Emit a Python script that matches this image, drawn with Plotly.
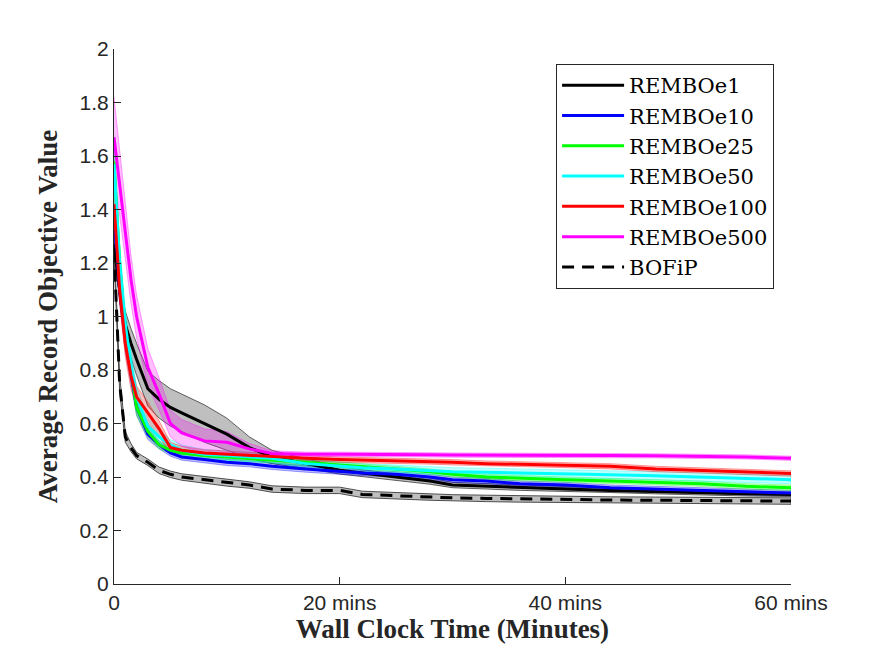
import plotly.graph_objects as go

# tempo (minutos) comum a todas as curvas
t = [0, 0.5, 1, 1.5, 2, 3, 4, 5, 6, 8, 10, 12, 14, 17, 20, 22, 25, 28, 30, 33, 36, 40, 44, 48, 52, 56, 60]

# medias
rembo_e1 = [1.27, 1.10, 0.97, 0.90, 0.84, 0.73, 0.69, 0.66, 0.64, 0.60, 0.56, 0.51, 0.475, 0.45, 0.425, 0.415, 0.40, 0.385, 0.37, 0.365, 0.36, 0.355, 0.35, 0.345, 0.34, 0.337, 0.335]
rembo_e10 = [1.37, 1.10, 0.92, 0.79, 0.66, 0.56, 0.52, 0.49, 0.475, 0.465, 0.455, 0.45, 0.44, 0.43, 0.42, 0.415, 0.41, 0.40, 0.39, 0.385, 0.375, 0.37, 0.36, 0.355, 0.35, 0.343, 0.34]
rembo_e25 = [1.58, 1.20, 0.95, 0.80, 0.66, 0.57, 0.52, 0.50, 0.49, 0.48, 0.475, 0.47, 0.465, 0.455, 0.445, 0.44, 0.43, 0.42, 0.41, 0.40, 0.395, 0.39, 0.385, 0.38, 0.375, 0.365, 0.36]
rembo_e50 = [1.57, 1.20, 0.97, 0.82, 0.70, 0.59, 0.55, 0.52, 0.50, 0.485, 0.48, 0.475, 0.47, 0.45, 0.44, 0.435, 0.43, 0.425, 0.42, 0.418, 0.415, 0.41, 0.408, 0.405, 0.40, 0.395, 0.39]
rembo_e100 = [1.42, 1.10, 0.90, 0.78, 0.70, 0.64, 0.58, 0.51, 0.50, 0.49, 0.485, 0.48, 0.475, 0.47, 0.465, 0.463, 0.46, 0.458, 0.455, 0.45, 0.448, 0.445, 0.44, 0.43, 0.425, 0.42, 0.413]
rembo_e500 = [1.67, 1.50, 1.32, 1.14, 1.00, 0.81, 0.71, 0.60, 0.565, 0.535, 0.53, 0.505, 0.488, 0.485, 0.485, 0.485, 0.484, 0.483, 0.482, 0.482, 0.481, 0.48, 0.48, 0.479, 0.478, 0.475, 0.47]
bofip = [1.25, 0.75, 0.55, 0.51, 0.48, 0.455, 0.425, 0.41, 0.40, 0.39, 0.378, 0.37, 0.355, 0.35, 0.35, 0.335, 0.33, 0.325, 0.322, 0.32, 0.318, 0.316, 0.314, 0.313, 0.312, 0.311, 0.31]

# meia largura das faixas
faixa_e1 = [0.03, 0.04, 0.05, 0.055, 0.06, 0.065, 0.07, 0.07, 0.07, 0.07, 0.06, 0.04, 0.025, 0.018, 0.014, 0.012, 0.012, 0.012, 0.01, 0.01, 0.01, 0.01, 0.008, 0.008, 0.008, 0.008, 0.008]
faixa_e10 = [0.05, 0.05, 0.05, 0.04, 0.03, 0.02, 0.015, 0.012, 0.012, 0.012, 0.012, 0.012, 0.012, 0.012, 0.01, 0.01, 0.01, 0.01, 0.01, 0.01, 0.01, 0.01, 0.01, 0.01, 0.01, 0.01, 0.01]
faixa_e25 = [0.05, 0.05, 0.05, 0.04, 0.03, 0.02, 0.015, 0.012, 0.012, 0.012, 0.012, 0.012, 0.012, 0.012, 0.01, 0.01, 0.01, 0.01, 0.01, 0.01, 0.01, 0.01, 0.01, 0.01, 0.01, 0.01, 0.01]
faixa_e50 = [0.08, 0.07, 0.06, 0.05, 0.04, 0.03, 0.025, 0.02, 0.02, 0.018, 0.018, 0.018, 0.016, 0.016, 0.015, 0.015, 0.015, 0.015, 0.015, 0.015, 0.015, 0.015, 0.015, 0.015, 0.015, 0.015, 0.015]
faixa_e100 = [0.05, 0.05, 0.05, 0.05, 0.04, 0.04, 0.03, 0.02, 0.015, 0.012, 0.012, 0.012, 0.01, 0.01, 0.01, 0.01, 0.01, 0.01, 0.01, 0.01, 0.01, 0.01, 0.01, 0.01, 0.01, 0.01, 0.01]
faixa_e500 = [0.15, 0.12, 0.10, 0.09, 0.08, 0.07, 0.06, 0.05, 0.05, 0.045, 0.04, 0.02, 0.01, 0.008, 0.008, 0.008, 0.008, 0.008, 0.008, 0.008, 0.008, 0.008, 0.008, 0.008, 0.008, 0.008, 0.008]
faixa_bofip = [0.03, 0.03, 0.02, 0.015, 0.012, 0.012, 0.012, 0.012, 0.012, 0.012, 0.012, 0.012, 0.012, 0.012, 0.012, 0.012, 0.012, 0.012, 0.012, 0.012, 0.012, 0.012, 0.012, 0.012, 0.012, 0.012, 0.012]

x_ticks = [0, 20, 40, 60]
x_labels = ['0', '20 mins', '40 mins', '60 mins']

series = [
    ('REMBOe1', rembo_e1, faixa_e1, '#000000', 'rgba(0,0,0,0.25)', 'rgba(60,60,60,0.8)', 'solid'),
    ('REMBOe10', rembo_e10, faixa_e10, '#0000ff', 'rgba(0,0,255,0.25)', 'rgba(0,0,255,0.35)', 'solid'),
    ('REMBOe25', rembo_e25, faixa_e25, '#00ff00', 'rgba(0,255,0,0.25)', 'rgba(0,255,0,0.35)', 'solid'),
    ('REMBOe50', rembo_e50, faixa_e50, '#00ffff', 'rgba(0,255,255,0.25)', 'rgba(0,255,255,0.35)', 'solid'),
    ('REMBOe100', rembo_e100, faixa_e100, '#ff0000', 'rgba(255,0,0,0.25)', 'rgba(255,0,0,0.35)', 'solid'),
    ('REMBOe500', rembo_e500, faixa_e500, '#ff00ff', 'rgba(255,0,255,0.25)', 'rgba(255,0,255,0.35)', 'solid'),
    ('BOFiP', bofip, faixa_bofip, '#000000', 'rgba(0,0,0,0.25)', 'rgba(60,60,60,0.9)', '12px,8px'),
]

fig = go.Figure()

# faixas primeiro
for nome, media, faixa, cor, preench, borda, traco in series:
    sup = [m + f for m, f in zip(media, faixa)]
    inf = [m - f for m, f in zip(media, faixa)]
    fig.add_trace(go.Scatter(
        x=t + t[::-1],
        y=sup + inf[::-1],
        fill='toself',
        fillcolor=preench,
        line=dict(color=borda, width=1),
        mode='lines',
        showlegend=False,
        hoverinfo='skip'
    ))

# depois as medias
for nome, media, faixa, cor, preench, borda, traco in series:
    fig.add_trace(go.Scatter(
        x=t,
        y=media,
        mode='lines',
        name=nome,
        line=dict(color=cor, width=3, dash=traco)
    ))

eixo = dict(
    showline=True,
    linecolor='#262626',
    linewidth=1,
    ticks='inside',
    ticklen=7,
    tickcolor='#262626',
    showgrid=False,
    zeroline=False,
    tickfont=dict(family='Liberation Sans', size=21, color='#262626'),
)

fig.update_layout(
    width=867,
    height=648,
    paper_bgcolor='white',
    plot_bgcolor='white',
    margin=dict(l=106, r=84, t=41, b=72),
    xaxis=dict(
        eixo,
        range=[0, 60],
        tickvals=x_ticks,
        ticktext=x_labels,
        title=dict(text='Wall Clock Time (Minutes)', standoff=4,
                   font=dict(family='Liberation Serif', size=27, color='#262626', weight='bold')),
    ),
    yaxis=dict(
        eixo,
        range=[0, 2],
        dtick=0.2,
        title=dict(text='Average Record Objective Value', standoff=14,
                   font=dict(family='Liberation Serif', size=27, color='#262626', weight='bold')),
    ),
    legend=dict(
        x=0.975,
        y=0.972,
        xanchor='right',
        yanchor='top',
        bgcolor='white',
        bordercolor='#262626',
        borderwidth=1,
        itemwidth=62,
        font=dict(family='DejaVu Serif', size=21, color='#000000'),
        tracegroupgap=0,
    ),
    showlegend=True,
)

fig.write_html("out.html")
